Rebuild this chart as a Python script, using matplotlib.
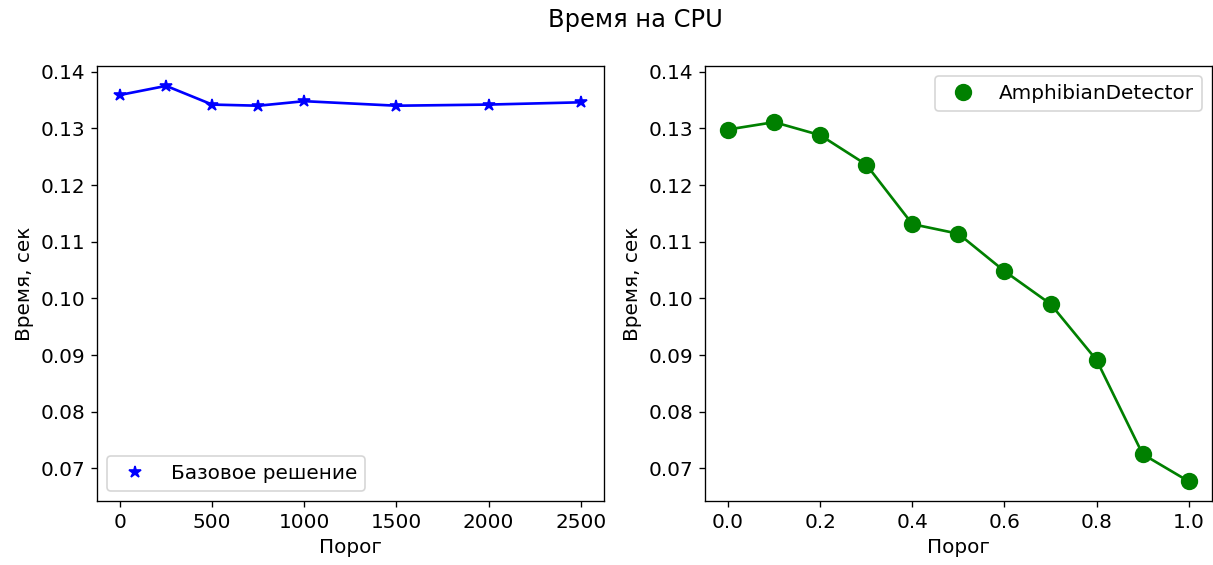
import matplotlib
matplotlib.use("Agg")
import matplotlib.pyplot as plt

# базовое решение
base_thr = [0, 250, 500, 750, 1000, 1500, 2000, 2500]
base_time = [0.1359, 0.1375, 0.1342, 0.1340, 0.1348, 0.1340, 0.1342, 0.1346]

# AmphibianDetector
amph_thr = [0.0, 0.1, 0.2, 0.3, 0.4, 0.5, 0.6, 0.7, 0.8, 0.9, 1.0]
amph_time = [0.1298, 0.1311, 0.1288, 0.1236, 0.1131, 0.1114, 0.1048, 0.0990,
             0.0891, 0.0725, 0.0677]

plt.rcParams['font.family'] = ['DejaVu Sans']
plt.rcParams['font.size'] = 12

fig = plt.figure(figsize=(1213 / 120, 565 / 120), dpi=120)
ax1 = fig.add_subplot(1, 2, 1)
ax2 = fig.add_subplot(1, 2, 2)
ax2.sharey(ax1)

ax1.plot(base_thr, base_time, 'b*', markersize=7.8, label='Базовое решение')
ax1.plot(base_thr, base_time, 'b-', linewidth=1.6)
ax1.set_xlabel('Порог')
ax1.set_ylabel('Время, сек')
ax1.legend(loc='lower left')

ax2.plot(amph_thr, amph_time, 'go', markersize=9.4, label='AmphibianDetector')
ax2.plot(amph_thr, amph_time, 'g-', linewidth=1.6)
ax2.set_xlabel('Порог')
ax2.set_ylabel('Время, сек')
ax2.legend(loc='upper right')

fig.suptitle('Время на CPU', fontsize=14.5, x=0.524, y=0.985)
fig.subplots_adjust(left=0.080, right=0.999, bottom=0.113, top=0.883, wspace=0.2)
fig.savefig('out.png', dpi=120)
